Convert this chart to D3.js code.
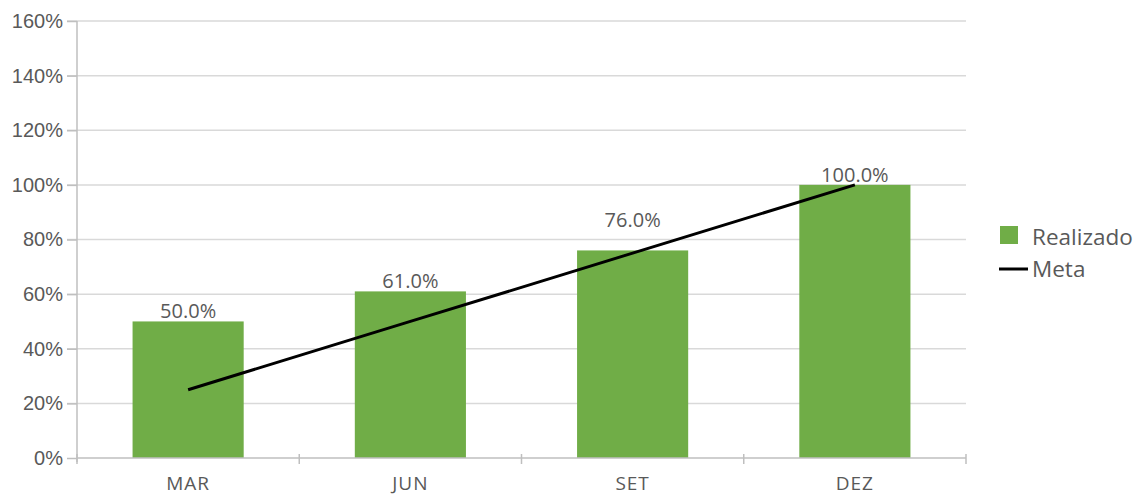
<!DOCTYPE html>
<html>
<head>
<meta charset="utf-8">
<script src="https://cdn.jsdelivr.net/npm/d3@7"></script>
<style>
  html, body { margin: 0; padding: 0; background: #fff; }
  svg { display: block; font-family: "Open Sans", "Noto Sans", sans-serif; }
</style>
</head>
<body>
<svg id="chart" width="1139" height="495"></svg>
<script>
// Quarterly achievement vs target
const categories = ["MAR", "JUN", "SET", "DEZ"];
const realizado = [50, 61, 76, 100];
const meta = [25, 50, 75, 100];
const yTicks = [0, 20, 40, 60, 80, 100, 120, 140, 160];
const seriesNames = ["Realizado", "Meta"];

const svg = d3.select("#chart");
const plot = { left: 77, right: 966, top: 21, bottom: 458 };
const textColor = "#595959";
const barColor = "#70AD47";

const x = d3.scaleBand()
  .domain(categories)
  .range([plot.left, plot.right])
  .paddingInner(0.5)
  .paddingOuter(0.25);

const y = d3.scaleLinear()
  .domain([0, 160])
  .range([plot.bottom, plot.top]);

const cx = d => x(d) + x.bandwidth() / 2;

// horizontal gridlines
svg.append("g")
  .selectAll("line")
  .data(yTicks.filter(d => d > 0))
  .join("line")
  .attr("x1", plot.left - 10)
  .attr("x2", plot.right)
  .attr("y1", d => y(d))
  .attr("y2", d => y(d))
  .attr("stroke", "#d9d9d9")
  .attr("stroke-width", 1.5);

// y axis
const yAxis = svg.append("g")
  .attr("transform", `translate(${plot.left},0)`)
  .call(d3.axisLeft(y).tickValues(yTicks).tickSize(10).tickPadding(4).tickFormat(d => d + "%"));
yAxis.select(".domain").attr("stroke", "#bfbfbf").attr("stroke-width", 1.5)
  .attr("d", `M0,${plot.top}V${plot.bottom + 4}`);
yAxis.selectAll(".tick line").attr("stroke", "#bfbfbf").attr("stroke-width", 1.5);
yAxis.selectAll(".tick text").attr("fill", textColor).attr("font-size", 20);

// bars
svg.append("g")
  .selectAll("rect")
  .data(categories)
  .join("rect")
  .attr("x", d => x(d))
  .attr("width", x.bandwidth())
  .attr("y", (d, i) => y(realizado[i]))
  .attr("height", (d, i) => y(0) - y(realizado[i]))
  .attr("fill", barColor);

// x axis with category boundary ticks
const step = x.step();
const boundaries = d3.range(categories.length + 1).map(i => plot.left + i * step);
const xg = svg.append("g");
xg.append("line")
  .attr("x1", plot.left).attr("x2", plot.right)
  .attr("y1", y(0)).attr("y2", y(0))
  .attr("stroke", "#bfbfbf").attr("stroke-width", 1.5);
xg.selectAll("line.tick")
  .data(boundaries)
  .join("line")
  .attr("class", "tick")
  .attr("x1", d => d).attr("x2", d => d)
  .attr("y1", y(0) - 4).attr("y2", y(0) + 6)
  .attr("stroke", "#bfbfbf").attr("stroke-width", 1.5);
xg.selectAll("text")
  .data(categories)
  .join("text")
  .attr("x", cx)
  .attr("y", 490)
  .attr("text-anchor", "middle")
  .attr("fill", textColor)
  .attr("font-size", 19)
  .attr("letter-spacing", 1)
  .text(d => d);

// target line
const line = d3.line()
  .x((d, i) => cx(categories[i]))
  .y(d => y(d));
svg.append("path")
  .datum(meta)
  .attr("d", line)
  .attr("fill", "none")
  .attr("stroke", "#000")
  .attr("stroke-width", 3);

// target value at any horizontal position between category centres
const centres = categories.map(cx);
function metaAt(px) {
  if (px < centres[0] || px > centres[centres.length - 1]) return null;
  const j = Math.min(d3.bisectRight(centres, px), centres.length - 1);
  const i0 = Math.max(j - 1, 0);
  const t = (px - centres[i0]) / (centres[j] - centres[i0] || 1);
  return y(meta[i0] + t * (meta[j] - meta[i0]));
}

// value labels, lifted above the target line where it would cross them
const labelSize = 20;
const labels = svg.append("g")
  .selectAll("text")
  .data(categories)
  .join("text")
  .attr("x", cx)
  .attr("text-anchor", "middle")
  .attr("fill", textColor)
  .attr("font-size", labelSize)
  .text((d, i) => realizado[i].toFixed(1) + "%");

labels.each(function (d, i) {
  const top = y(realizado[i]);
  let base = top - 3;
  const w = this.getComputedTextLength();
  const ends = [cx(d) - w / 2, cx(d) + w / 2]
    .map(metaAt)
    .filter(v => v !== null);
  const crossing = ends.filter(v => v < top && v > base - labelSize);
  if (crossing.length) base = d3.min(crossing) - 18;
  d3.select(this).attr("y", base);
});

// legend
const legend = svg.append("g");
legend.append("rect")
  .attr("x", 1000).attr("y", 226).attr("width", 18).attr("height", 18)
  .attr("fill", barColor);
legend.append("text")
  .attr("x", 1032).attr("y", 245)
  .attr("fill", textColor).attr("font-size", 22.5)
  .text(seriesNames[0]);
legend.append("line")
  .attr("x1", 999).attr("x2", 1028).attr("y1", 269).attr("y2", 269)
  .attr("stroke", "#000").attr("stroke-width", 3);
legend.append("text")
  .attr("x", 1032).attr("y", 277)
  .attr("fill", textColor).attr("font-size", 22.5)
  .text(seriesNames[1]);
</script>
</body>
</html>
